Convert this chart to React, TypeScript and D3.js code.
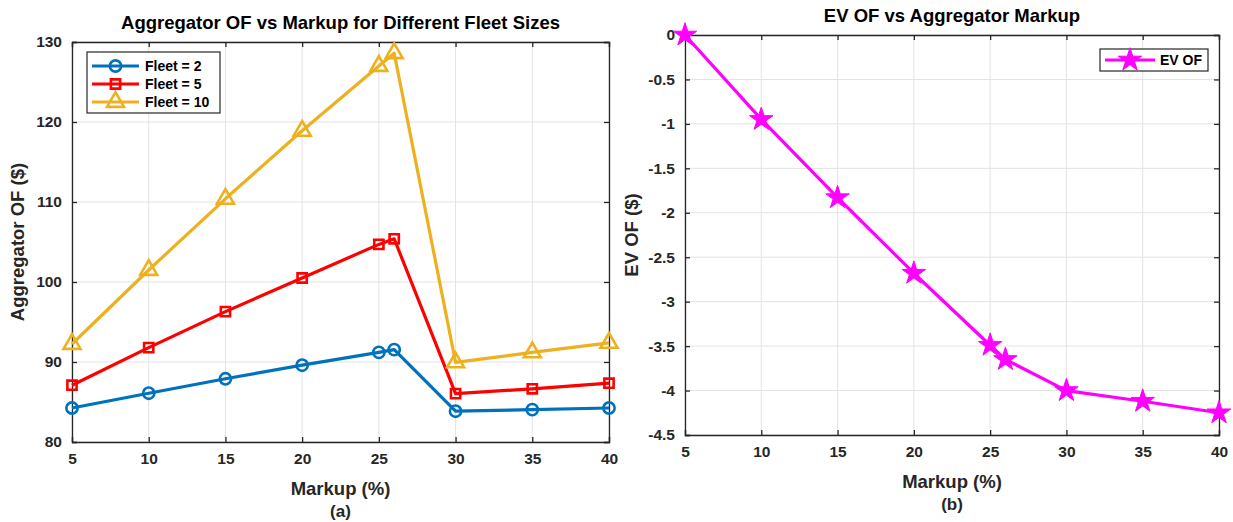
import React, { useRef, useEffect } from 'react';
import * as d3 from 'd3';

const markup = [5, 10, 15, 20, 25, 26, 30, 35, 40];
const fleet2 = [84.25, 86.1, 87.9, 89.6, 91.2, 91.55, 83.85, 84.05, 84.25];
const fleet5 = [87.1, 91.8, 96.3, 100.5, 104.7, 105.4, 86.05, 86.65, 87.35];
const fleet10 = [92.25, 101.5, 110.4, 118.9, 127.0, 128.6, 89.95, 91.2, 92.4];
const evOF = [0, -0.95, -1.83, -2.68, -3.49, -3.65, -4.0, -4.12, -4.25];

const xTicks = [5, 10, 15, 20, 25, 30, 35, 40];
const leftYTicks = [80, 90, 100, 110, 120, 130];
const rightYTicks = [0, -0.5, -1, -1.5, -2, -2.5, -3, -3.5, -4, -4.5];

const FONT = '"Liberation Sans", Arial, Helvetica, sans-serif';
const AXIS_COLOR = '#262626';

const App = () => {
  const svgRef = useRef(null);

  useEffect(() => {
    const svg = d3.select(svgRef.current);
    svg.selectAll('*').remove();

    // draws box, grid, ticks, labels for one axes
    const drawAxes = (box, xScale, yScale, yTicks, yFmt, title, ylabel, sub) => {
      const g = svg.append('g');

      g.selectAll('.xg').data(xTicks).enter().append('line')
        .attr('x1', d => xScale(d)).attr('x2', d => xScale(d))
        .attr('y1', box.top).attr('y2', box.bottom)
        .attr('stroke', '#e3e3e3').attr('stroke-width', 1);
      g.selectAll('.yg').data(yTicks).enter().append('line')
        .attr('x1', box.left).attr('x2', box.right)
        .attr('y1', d => yScale(d)).attr('y2', d => yScale(d))
        .attr('stroke', '#e3e3e3').attr('stroke-width', 1);

      const bottom = g.append('g')
        .attr('transform', `translate(0, ${box.bottom})`)
        .call(d3.axisBottom(xScale).tickValues(xTicks).tickSize(-5).tickPadding(11).tickFormat(d => String(d)));
      const top = g.append('g')
        .attr('transform', `translate(0, ${box.top})`)
        .call(d3.axisTop(xScale).tickValues(xTicks).tickSize(-5).tickFormat(() => ''));
      const left = g.append('g')
        .attr('transform', `translate(${box.left}, 0)`)
        .call(d3.axisLeft(yScale).tickValues(yTicks).tickSize(-5).tickPadding(10).tickFormat(yFmt));
      const right = g.append('g')
        .attr('transform', `translate(${box.right}, 0)`)
        .call(d3.axisRight(yScale).tickValues(yTicks).tickSize(-5).tickFormat(() => ''));

      [bottom, top, left, right].map((axis) => {
        axis.selectAll('path, line').attr('stroke', AXIS_COLOR).attr('stroke-width', 1.3);
        axis.selectAll('text')
          .attr('fill', AXIS_COLOR)
          .style('font-family', FONT)
          .style('font-weight', 'bold')
          .style('font-size', '15.5px');
      });

      g.append('text')
        .attr('x', (box.left + box.right) / 2).attr('y', box.top - 13)
        .attr('text-anchor', 'middle')
        .style('font-family', FONT).style('font-weight', 'bold').style('font-size', '18.5px')
        .attr('fill', '#000')
        .text(title);

      g.append('text')
        .attr('transform', `translate(${box.ylabelX}, ${(box.top + box.bottom) / 2}) rotate(-90)`)
        .attr('text-anchor', 'middle')
        .style('font-family', FONT).style('font-weight', 'bold').style('font-size', '18.5px')
        .attr('fill', AXIS_COLOR)
        .text(ylabel);

      g.append('text')
        .attr('x', (box.left + box.right) / 2).attr('y', box.bottom + 53)
        .attr('text-anchor', 'middle')
        .style('font-family', FONT).style('font-weight', 'bold').style('font-size', '18.5px')
        .attr('fill', AXIS_COLOR)
        .text('Markup (%)');

      g.append('text')
        .attr('x', (box.left + box.right) / 2).attr('y', box.bottom + 75)
        .attr('text-anchor', 'middle')
        .style('font-family', FONT).style('font-weight', 'bold').style('font-size', '17px')
        .attr('fill', AXIS_COLOR)
        .text(sub);
    };

    // ---- left plot ----
    const boxA = { left: 72, right: 609, top: 42, bottom: 442, ylabelX: 24 };
    const xA = d3.scaleLinear().domain([5, 40]).range([boxA.left, boxA.right]);
    const yA = d3.scaleLinear().domain([80, 130]).range([boxA.bottom, boxA.top]);
    drawAxes(boxA, xA, yA, leftYTicks, d => String(d),
      'Aggregator OF vs Markup for Different Fleet Sizes', 'Aggregator OF ($)', '(a)');

    const seriesA = [
      { name: 'Fleet = 2', values: fleet2, color: '#0072BD', symbol: d3.symbolCircle, size: 100 },
      { name: 'Fleet = 5', values: fleet5, color: '#FF0000', symbol: d3.symbolSquare, size: 85 },
      { name: 'Fleet = 10', values: fleet10, color: '#EDB120', symbol: d3.symbolTriangle, size: 125 },
    ];

    const lineA = d3.line().x(d => xA(d[0])).y(d => yA(d[1]));
    seriesA.forEach((s) => {
      const pts = markup.map((m, i) => [m, s.values[i]]);
      svg.append('path')
        .datum(pts)
        .attr('d', lineA)
        .attr('fill', 'none')
        .attr('stroke', s.color)
        .attr('stroke-width', 3.2)
        .attr('stroke-linejoin', 'round');
      svg.selectAll(null).data(pts).enter().append('path')
        .attr('d', d3.symbol().type(s.symbol).size(s.size))
        .attr('transform', d => `translate(${xA(d[0])}, ${yA(d[1])})`)
        .attr('fill', 'none')
        .attr('stroke', s.color)
        .attr('stroke-width', 2.6);
    });

    // legend A
    const legA = svg.append('g').attr('transform', 'translate(87, 52)');
    legA.append('rect').attr('width', 133).attr('height', 61)
      .attr('fill', '#fff').attr('stroke', AXIS_COLOR).attr('stroke-width', 1.2);
    seriesA.forEach((s, i) => {
      const yy = 14 + i * 18;
      legA.append('line').attr('x1', 5).attr('x2', 52).attr('y1', yy).attr('y2', yy)
        .attr('stroke', s.color).attr('stroke-width', 3.2);
      legA.append('path')
        .attr('d', d3.symbol().type(s.symbol).size(s.size))
        .attr('transform', `translate(28.5, ${yy})`)
        .attr('fill', 'none').attr('stroke', s.color).attr('stroke-width', 2.6);
      legA.append('text').attr('x', 58).attr('y', yy + 5)
        .style('font-family', FONT).style('font-weight', 'bold').style('font-size', '14px')
        .attr('fill', '#000')
        .text(s.name);
    });

    // ---- right plot ----
    const boxB = { left: 685, right: 1219, top: 35, bottom: 435, ylabelX: 638 };
    const xB = d3.scaleLinear().domain([5, 40]).range([boxB.left, boxB.right]);
    const yB = d3.scaleLinear().domain([-4.5, 0]).range([boxB.bottom, boxB.top]);
    drawAxes(boxB, xB, yB, rightYTicks, d => String(d).replace('\u2212', '-'),
      'EV OF vs Aggregator Markup', 'EV OF ($)', '(b)');

    const ptsB = markup.map((m, i) => [m, evOF[i]]);
    const lineB = d3.line().x(d => xB(d[0])).y(d => yB(d[1]));
    svg.append('path')
      .datum(ptsB)
      .attr('d', lineB)
      .attr('fill', 'none')
      .attr('stroke', '#FF00FF')
      .attr('stroke-width', 3.2)
      .attr('stroke-linejoin', 'round');
    svg.selectAll(null).data(ptsB).enter().append('path')
      .attr('d', d3.symbol().type(d3.symbolStar).size(170))
      .attr('transform', d => `translate(${xB(d[0])}, ${yB(d[1])})`)
      .attr('fill', '#FF00FF')
      .attr('stroke', '#FF00FF')
      .attr('stroke-width', 1);

    // legend B
    const legB = svg.append('g').attr('transform', 'translate(1100, 49)');
    legB.append('rect').attr('width', 108).attr('height', 22)
      .attr('fill', '#fff').attr('stroke', AXIS_COLOR).attr('stroke-width', 1.2);
    legB.append('line').attr('x1', 5).attr('x2', 55).attr('y1', 11).attr('y2', 11)
      .attr('stroke', '#FF00FF').attr('stroke-width', 3.2);
    legB.append('path')
      .attr('d', d3.symbol().type(d3.symbolStar).size(170))
      .attr('transform', 'translate(30, 11)')
      .attr('fill', '#FF00FF').attr('stroke', '#FF00FF').attr('stroke-width', 1);
    legB.append('text').attr('x', 60).attr('y', 16)
      .style('font-family', FONT).style('font-weight', 'bold').style('font-size', '14px')
      .attr('fill', '#000')
      .text('EV OF');
  }, []);

  return (
    <svg
      ref={svgRef}
      width={1233}
      height={522}
      style={{ position: 'absolute', left: 0, top: 0, background: '#fff' }}
    ></svg>
  );
};

export default App;
